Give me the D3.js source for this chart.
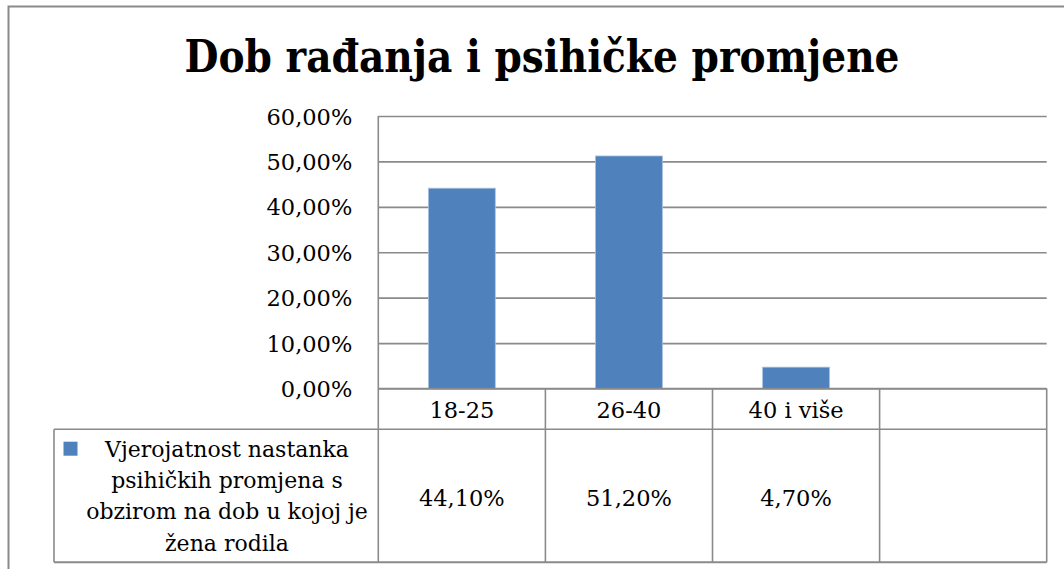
<!DOCTYPE html>
<html>
<head>
<meta charset="utf-8">
<script src="https://cdn.jsdelivr.net/npm/d3@7"></script>
<style>
  html, body { margin: 0; padding: 0; background: #fff; }
  svg { display: block; }
  text { font-family: "DejaVu Serif", "Liberation Serif", serif; fill: #000; }
</style>
</head>
<body>
<svg id="chart" width="1064" height="569"></svg>
<script>
// ---- data ----
const title = "Dob rađanja i psihičke promjene";
const categories = ["18-25", "26-40", "40 i više", ""];
const values = [0.441, 0.512, 0.047, null];
const seriesName = ["Vjerojatnost nastanka", "psihičkih promjena s", "obzirom na dob u kojoj je", "žena rodila"];
const yTicks = [0, 0.1, 0.2, 0.3, 0.4, 0.5, 0.6];

// ---- layout ----
const W = 1064, H = 569;
const plot = { left: 378.3, right: 1046.7, top: 116, bottom: 388.5 };
const table = { left: 54, catBottom: 429.3, bottom: 562.3 };
const gridColor = "#8a8a8a";
const barColor = "#4F81BD";

const locale = d3.formatLocale({ decimal: ",", thousands: ".", grouping: [3], currency: ["", "€"], percent: "%" });
const pct = locale.format(".2%");

const svg = d3.select("#chart");

// outer frame
svg.append("rect")
  .attr("x", 8.5).attr("y", 6.5)
  .attr("width", W + 10).attr("height", H + 10)
  .attr("fill", "#fff").attr("stroke", gridColor).attr("stroke-width", 2);

// scales
const x = d3.scaleBand().domain(categories).range([plot.left, plot.right]).paddingInner(0).paddingOuter(0);
const y = d3.scaleLinear().domain([0, 0.6]).range([plot.bottom, plot.top]);

// title
const t = svg.append("text")
  .attr("x", 542).attr("y", 72)
  .attr("text-anchor", "middle")
  .style("font-weight", "bold")
  .style("font-size", "44px")
  .text(title);
const tw = t.node().getComputedTextLength();
if (tw > 715) t.attr("textLength", 715).attr("lengthAdjust", "spacingAndGlyphs");

// y axis with gridlines
const yAxis = d3.axisLeft(y)
  .tickValues(yTicks)
  .tickFormat(pct)
  .tickSize(-(plot.right - plot.left))
  .tickPadding(26);
const gy = svg.append("g")
  .attr("transform", `translate(${plot.left},0)`)
  .call(yAxis);
gy.select(".domain").remove();
gy.selectAll(".tick line").attr("stroke", gridColor).attr("stroke-width", 1.6);
gy.selectAll(".tick text")
  .style("font-size", "22.5px")
  .style("font-family", "DejaVu Serif, serif")
  .attr("fill", "#000")
  .attr("dy", "0.36em");

// vertical axis line
svg.append("line")
  .attr("x1", plot.left).attr("x2", plot.left)
  .attr("y1", plot.top).attr("y2", table.catBottom)
  .attr("stroke", gridColor).attr("stroke-width", 1.6);

// bars
const bw = x.bandwidth();
svg.append("g").selectAll("rect")
  .data(categories.map((c, i) => ({ c, v: values[i] })).filter(d => d.v != null))
  .join("rect")
  .attr("x", d => x(d.c) + bw * 0.3)
  .attr("width", bw * 0.4)
  .attr("y", d => y(d.v))
  .attr("height", d => y(0) - y(d.v))
  .attr("fill", barColor)
  .attr("stroke", "#a7c0de")
  .attr("stroke-width", 0.8);

// data table
const tg = svg.append("g");
// horizontal lines
tg.append("line").attr("x1", plot.left).attr("x2", plot.right).attr("y1", plot.bottom).attr("y2", plot.bottom)
  .attr("stroke", gridColor).attr("stroke-width", 1.6);
tg.append("line").attr("x1", table.left).attr("x2", plot.right).attr("y1", table.catBottom).attr("y2", table.catBottom)
  .attr("stroke", gridColor).attr("stroke-width", 1.6);
tg.append("line").attr("x1", table.left).attr("x2", plot.right).attr("y1", table.bottom).attr("y2", table.bottom)
  .attr("stroke", gridColor).attr("stroke-width", 2);
// left border of legend cell
tg.append("line").attr("x1", table.left).attr("x2", table.left).attr("y1", table.catBottom).attr("y2", table.bottom)
  .attr("stroke", gridColor).attr("stroke-width", 1.6);
// column dividers
const dividers = categories.map(c => x(c) + bw);
tg.selectAll(".div").data(dividers).join("line")
  .attr("x1", d => d).attr("x2", d => d)
  .attr("y1", plot.bottom).attr("y2", table.bottom)
  .attr("stroke", gridColor).attr("stroke-width", 1.6);
tg.selectAll(".div0").data([plot.left]).join("line")
  .attr("x1", d => d).attr("x2", d => d)
  .attr("y1", table.catBottom).attr("y2", table.bottom)
  .attr("stroke", gridColor).attr("stroke-width", 1.6);

// category labels
tg.selectAll(".cat").data(categories).join("text")
  .attr("x", d => x(d) + bw / 2)
  .attr("y", 418)
  .attr("text-anchor", "middle")
  .style("font-size", "22.5px")
  .text(d => d);

// value labels
tg.selectAll(".val").data(categories.map((c, i) => ({ c, v: values[i] })).filter(d => d.v != null)).join("text")
  .attr("x", d => x(d.c) + bw / 2)
  .attr("y", 506)
  .attr("text-anchor", "middle")
  .style("font-size", "22.5px")
  .text(d => locale.format(".2%")(d.v));

// legend key
tg.append("rect")
  .attr("x", 63.5).attr("y", 441.7).attr("width", 14).attr("height", 14)
  .attr("fill", barColor);

// series name lines
const lineTargets = [247, 235, 287, 124];
tg.selectAll(".leg").data(seriesName).join("text")
  .attr("x", 227)
  .attr("y", (d, i) => 456.7 + i * 31.3)
  .attr("text-anchor", "middle")
  .style("font-size", "22px")
  .text(d => d)
  .each(function(d, i) {
    const w = this.getComputedTextLength();
    if (w > lineTargets[i] * 1.02) {
      d3.select(this).attr("textLength", lineTargets[i]).attr("lengthAdjust", "spacingAndGlyphs");
    }
  });
</script>
</body>
</html>
